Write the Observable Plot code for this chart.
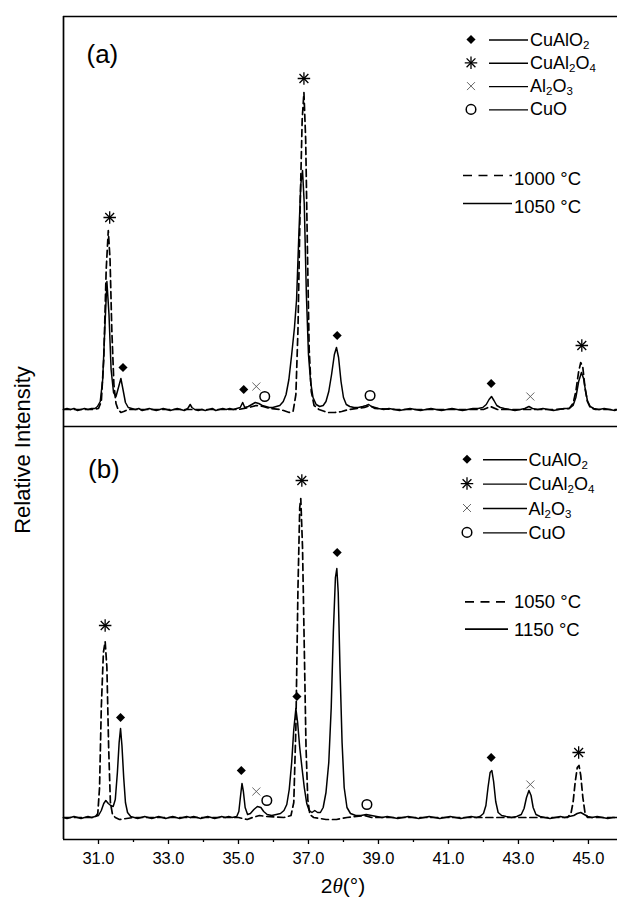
<!DOCTYPE html>
<html><head><meta charset="utf-8">
<script src="https://cdn.jsdelivr.net/npm/d3@7"></script>
<script src="https://cdn.jsdelivr.net/npm/@observablehq/plot@0.6"></script>
<style>
html,body{margin:0;padding:0;background:#fff;overflow:hidden}
#wrap{position:relative;width:617px;height:901px;font-family:"Liberation Sans",Arial,sans-serif}
#wrap svg{position:absolute;left:0;top:0}
</style></head><body><div id="wrap"></div>
<script>
// ---------- data ----------
const xTicks = [31, 33, 35, 37, 39, 41, 43, 45];
const xMinor = [30, 32, 34, 36, 38, 40, 42, 44];
const phases = ["CuAlO2", "CuAl2O4", "Al2O3", "CuO"];
const tempsA = ["1000 °C", "1050 °C"];
const tempsB = ["1050 °C", "1150 °C"];

// panel (a) 1000 °C (dashed): [2theta, intensity]
const a1000 = [[30.00,0],[30.40,0],[30.80,0],[31.00,1],[31.08,8],[31.15,50],[31.22,140],[31.28,179],[31.33,150],[31.38,80],[31.44,25],[31.50,6],[31.56,0],[31.64,-3],[31.72,-2],[31.85,0],[32.20,0],[33.00,0],[34.00,0],[35.00,0],[35.30,2],[35.50,4],[35.70,3],[35.90,1],[36.20,0],[36.45,-3],[36.56,-2],[36.64,15],[36.70,80],[36.76,200],[36.82,290],[36.87,317],[36.92,270],[36.97,160],[37.02,60],[37.08,18],[37.16,4],[37.30,0],[37.55,-3],[37.75,-3],[37.95,-2],[38.15,0],[38.60,2],[38.75,4],[38.90,1],[39.50,0],[41.00,0],[42.00,0],[42.20,3],[42.40,0],[44.00,0],[44.45,1],[44.56,6],[44.64,18],[44.72,38],[44.78,47],[44.84,42],[44.90,22],[44.97,8],[45.05,2],[45.20,0],[45.83,0]];

// panel (a) 1050 °C (solid)
const a1050 = [[30.00,0],[30.10,1],[30.20,0],[30.30,1],[30.40,-1],[30.50,0],[30.60,1],[30.70,0],[30.80,1],[30.90,1],[30.97,3],[31.05,8],[31.12,30],[31.18,80],[31.24,128],[31.30,95],[31.36,40],[31.43,17],[31.50,13],[31.57,22],[31.64,31],[31.70,20],[31.77,7],[31.85,2],[31.95,1],[32.05,0],[32.15,1],[32.25,-1],[32.35,0],[32.45,1],[32.55,0],[32.65,-1],[32.75,0],[32.85,1],[32.95,0],[33.05,-1],[33.15,0],[33.25,1],[33.35,0],[33.45,-1],[33.55,1],[33.62,5],[33.67,2],[33.75,0],[33.85,-1],[33.95,0],[34.05,-1],[34.15,0],[34.25,1],[34.35,-1],[34.45,0],[34.55,1],[34.65,0],[34.75,1],[34.85,0],[34.95,1],[35.05,2],[35.12,7],[35.18,2],[35.28,3],[35.38,5],[35.48,7],[35.58,6],[35.68,4],[35.78,3],[35.88,2],[35.98,2],[36.08,3],[36.18,4],[36.28,8],[36.36,15],[36.44,30],[36.52,55],[36.60,82],[36.66,110],[36.72,170],[36.78,225],[36.83,239],[36.88,205],[36.94,115],[37.00,55],[37.06,28],[37.13,12],[37.22,5],[37.32,3],[37.42,4],[37.50,8],[37.58,18],[37.66,35],[37.74,55],[37.80,62],[37.86,52],[37.93,28],[38.00,12],[38.08,5],[38.18,3],[38.30,2],[38.42,2],[38.55,3],[38.65,4],[38.72,5],[38.80,3],[38.90,2],[39.00,1],[39.15,0],[39.30,1],[39.45,0],[39.60,-1],[39.75,0],[39.90,1],[40.05,0],[40.20,-1],[40.35,0],[40.50,1],[40.65,0],[40.80,-1],[40.95,0],[41.10,1],[41.25,0],[41.40,-1],[41.55,0],[41.70,1],[41.85,1],[41.98,2],[42.08,5],[42.16,10],[42.23,13],[42.30,9],[42.38,4],[42.48,2],[42.60,1],[42.75,0],[42.90,-1],[43.05,0],[43.18,1],[43.30,3],[43.40,1],[43.55,0],[43.70,1],[43.85,0],[44.00,-1],[44.15,0],[44.30,1],[44.45,1],[44.56,4],[44.64,12],[44.72,28],[44.80,37],[44.86,31],[44.91,20],[44.97,9],[45.05,3],[45.15,1],[45.30,0],[45.45,1],[45.60,0],[45.75,-1],[45.83,0]];

// panel (b) 1050 °C (dashed)
const b1050 = [[30.00,0],[30.50,0],[30.90,0],[30.98,4],[31.03,30],[31.08,110],[31.14,165],[31.19,176],[31.24,150],[31.29,70],[31.34,15],[31.40,3],[31.48,0],[31.60,-2],[31.80,-1],[32.00,0],[35.00,0],[35.25,-2],[35.40,0],[35.60,2],[35.80,1],[36.30,0],[36.50,2],[36.58,15],[36.64,90],[36.70,230],[36.75,310],[36.78,319],[36.83,270],[36.88,170],[36.93,70],[36.98,18],[37.04,3],[37.15,0],[37.50,-2],[37.80,-2],[38.10,0],[38.60,2],[38.80,0],[44.40,0],[44.50,4],[44.56,15],[44.62,35],[44.68,50],[44.73,52],[44.78,42],[44.84,20],[44.90,5],[44.97,0],[45.83,0]];

// panel (b) 1150 °C (solid)
const b1150 = [[30.00,0],[30.10,-1],[30.20,0],[30.30,1],[30.40,0],[30.50,-1],[30.60,0],[30.70,1],[30.80,0],[30.90,1],[31.00,2],[31.08,7],[31.15,14],[31.21,17],[31.28,14],[31.35,12],[31.42,11],[31.48,18],[31.54,45],[31.59,75],[31.63,89],[31.67,72],[31.72,40],[31.77,15],[31.83,5],[31.92,1],[32.02,0],[32.12,-1],[32.22,0],[32.32,1],[32.42,0],[32.52,-1],[32.62,0],[32.72,1],[32.82,0],[32.92,-1],[33.02,0],[33.12,1],[33.22,0],[33.32,-1],[33.42,0],[33.52,1],[33.62,0],[33.72,1],[33.82,0],[33.92,-1],[34.02,0],[34.12,1],[34.22,0],[34.32,-1],[34.42,0],[34.52,1],[34.62,0],[34.72,1],[34.82,0],[34.95,1],[35.01,6],[35.06,22],[35.10,34],[35.14,26],[35.19,10],[35.26,3],[35.34,4],[35.44,8],[35.54,11],[35.64,10],[35.72,6],[35.82,3],[35.95,2],[36.08,3],[36.20,4],[36.30,7],[36.38,13],[36.45,28],[36.52,55],[36.58,88],[36.64,109],[36.69,95],[36.75,70],[36.82,48],[36.88,30],[36.95,14],[37.02,7],[37.10,5],[37.18,7],[37.26,5],[37.34,5],[37.42,10],[37.50,25],[37.58,55],[37.65,110],[37.71,185],[37.77,240],[37.81,249],[37.85,225],[37.90,150],[37.96,75],[38.02,30],[38.10,10],[38.20,4],[38.35,2],[38.50,2],[38.65,3],[38.80,2],[38.95,1],[39.10,0],[39.25,1],[39.40,0],[39.55,-1],[39.70,0],[39.85,1],[40.00,0],[40.15,-1],[40.30,0],[40.45,1],[40.60,0],[40.75,-1],[40.90,0],[41.05,1],[41.20,0],[41.35,-1],[41.50,0],[41.65,1],[41.80,0],[41.90,1],[42.00,4],[42.07,12],[42.13,30],[42.19,45],[42.24,47],[42.29,36],[42.35,16],[42.42,5],[42.52,2],[42.65,1],[42.80,0],[42.95,1],[43.08,3],[43.16,9],[43.23,20],[43.30,27],[43.36,22],[43.42,10],[43.50,3],[43.62,1],[43.75,0],[43.90,-1],[44.05,0],[44.20,1],[44.32,0],[44.45,1],[44.58,2],[44.68,4],[44.78,5],[44.88,3],[44.98,1],[45.10,0],[45.25,1],[45.40,0],[45.55,-1],[45.70,0],[45.83,0]];

// phase markers: [phase, 2theta, height]
const markersA = [["CuAl2O4",31.32,192],["CuAlO2",31.70,42],["CuAlO2",35.15,20],["Al2O3",35.51,23],["CuO",35.75,13],["CuAl2O4",36.87,331],["CuAlO2",37.82,74],["CuO",38.76,14],["CuAlO2",42.22,26],["Al2O3",43.34,13],["CuAl2O4",44.81,64]];
const markersB = [["CuAl2O4",31.19,192],["CuAlO2",31.63,100],["CuAlO2",35.08,47],["Al2O3",35.51,26],["CuO",35.81,17],["CuAlO2",36.67,121],["CuAl2O4",36.81,337],["CuAlO2",37.82,265],["CuO",38.67,13],["CuAlO2",42.22,60],["Al2O3",43.34,33],["CuAl2O4",44.72,65]];

// ---------- layout ----------
const offA = 408, offB = 0;         // vertical offset of each panel's baseline
const yTop = 801, yDiv = 391, yBot = -22;
const dash = "7,4";
const R = {dia: 4.1, ast: 4.1, x: 3.7, o: 4.8};

function markerMarks(list, off) {
  const get = p => list.filter(d => d[0] === p);
  const X = d => d[1], Y = d => d[2] + off;
  return [
    Plot.dot(get("CuAlO2"), {x: X, y: Y, symbol: "diamond2", r: R.dia, fill: "black", stroke: "none"}),
    Plot.dot(get("CuAl2O4"), {x: X, y: Y, symbol: "plus", r: R.ast, stroke: "black", strokeWidth: 1.3}),
    Plot.dot(get("CuAl2O4"), {x: X, y: Y, symbol: "times", r: R.ast, stroke: "black", strokeWidth: 1.3}),
    Plot.dot(get("Al2O3"), {x: X, y: Y, symbol: "times", r: R.x, stroke: "#555", strokeWidth: 0.9}),
    Plot.dot(get("CuO"), {x: X, y: Y, symbol: "circle", r: R.o, stroke: "black", fill: "white", strokeWidth: 1.5})
  ];
}
function lineMark(data, off, dashed) {
  return Plot.line(data, {x: d => d[0], y: d => d[1] + off, stroke: "black", strokeWidth: dashed ? 1.7 : 1.5,
    strokeDasharray: dashed ? dash : null, curve: "linear"});
}

const chart = Plot.plot({
  width: 617, height: 901,
  marginLeft: 63, marginRight: 0, marginTop: 16, marginBottom: 62,
  style: {fontFamily: '"Liberation Sans", Arial, sans-serif', fontSize: "16.5px", color: "black", background: "white"},
  x: {domain: [30, 45.83], axis: null},
  y: {domain: [yBot, yTop], axis: null},
  marks: [
    lineMark(a1000, offA, true),
    lineMark(a1050, offA, false),
    lineMark(b1050, offB, true),
    lineMark(b1150, offB, false),
    ...markerMarks(markersA, offA),
    ...markerMarks(markersB, offB),
    Plot.ruleY([yTop, yDiv, yBot], {stroke: "black", strokeWidth: 1.7}),
    Plot.ruleX([30], {y1: yBot, y2: yTop, stroke: "black", strokeWidth: 1.7}),
    Plot.axisX({ticks: xTicks, tickSize: 5, tickPadding: 8, tickFormat: d => d.toFixed(1), label: null, strokeWidth: 1.3}),
    Plot.axisX({ticks: xMinor.slice(1), tickSize: 3, tickFormat: () => "", label: null, strokeWidth: 1.3})
  ]
});
document.getElementById("wrap").appendChild(chart);

// ---------- overlay: legends and labels ----------
const ov = d3.select("#wrap").append("svg").attr("width", 617).attr("height", 901)
  .style("font-family", '"Liberation Sans", Arial, sans-serif').style("pointer-events", "none");

function chemText(g, label, x, y, size) {
  const t = g.append("text").attr("x", x).attr("y", y).attr("font-size", size).attr("fill", "black");
  const parts = label.match(/\d+|\D+/g);
  let sub = false;
  parts.forEach(p => {
    const isNum = /\d/.test(p);
    const ts = t.append("tspan").text(p);
    if (isNum && !sub) { ts.attr("dy", 3).attr("font-size", size * 0.64); sub = true; }
    else if (isNum) { ts.attr("font-size", size * 0.64); }
    else if (sub) { ts.attr("dy", -3); sub = false; }
  });
}
function legendSymbol(g, p, cx, cy) {
  const area = r => Math.PI * r * r;
  const tr = `translate(${cx},${cy})`;
  if (p === "CuAlO2") g.append("path").attr("d", d3.symbol(d3.symbolDiamond2, area(R.dia))()).attr("transform", tr).attr("fill", "black");
  if (p === "CuAl2O4") {
    g.append("path").attr("d", d3.symbol(d3.symbolPlus, area(R.ast))()).attr("transform", tr).attr("fill", "none").attr("stroke", "black").attr("stroke-width", 1.3);
    g.append("path").attr("d", d3.symbol(d3.symbolTimes, area(R.ast))()).attr("transform", tr).attr("fill", "none").attr("stroke", "black").attr("stroke-width", 1.3);
  }
  if (p === "Al2O3") g.append("path").attr("d", d3.symbol(d3.symbolTimes, area(R.x))()).attr("transform", tr).attr("fill", "none").attr("stroke", "#555").attr("stroke-width", 0.9);
  if (p === "CuO") g.append("circle").attr("cx", cx).attr("cy", cy).attr("r", R.o).attr("fill", "none").attr("stroke", "black").attr("stroke-width", 1.5);
}
function legend(L, temps) {
  const g = ov.append("g");
  phases.forEach((p, i) => {
    const base = L.rowBase + i * L.rowStep;
    legendSymbol(g, p, L.symX, base - L.symUp);
    g.append("line").attr("x1", L.lx1).attr("x2", L.lx2).attr("y1", base - L.lineUp).attr("y2", base - L.lineUp).attr("stroke", "black").attr("stroke-width", 1.4);
    chemText(g, p, L.textX, base, 18);
  });
  temps.forEach((t, i) => {
    const base = L.tBase[i];
    g.append("line").attr("x1", L.tx1).attr("x2", L.tx2).attr("y1", base - L.tUp).attr("y2", base - L.tUp)
      .attr("stroke", "black").attr("stroke-width", 1.7).attr("stroke-dasharray", i === 0 ? "9,6.5" : null);
    g.append("text").attr("x", L.tTextX).attr("y", base).attr("font-size", 18.5).text(t);
  });
}
legend({symX: 471, lx1: 489, lx2: 528, textX: 530, rowBase: 45.5, rowStep: 23.3, symUp: 6, lineUp: 5.5,
        tx1: 463, tx2: 512, tTextX: 514, tBase: [184.5, 212.5], tUp: 9}, tempsA);
legend({symX: 467, lx1: 483, lx2: 527, textX: 528.5, rowBase: 465.7, rowStep: 24.4, symUp: 6.5, lineUp: 6,
        tx1: 465, tx2: 508, tTextX: 514, tBase: [608.3, 635.7], tUp: 6.5}, tempsB);

ov.append("text").attr("x", 86.5).attr("y", 63).attr("font-size", 26).text("(a)");
ov.append("text").attr("x", 88).attr("y", 478).attr("font-size", 26).text("(b)");
ov.append("text").attr("transform", "translate(30,450) rotate(-90)").attr("text-anchor", "middle").attr("font-size", 22).text("Relative Intensity");
const xl = ov.append("text").attr("x", 343).attr("y", 893).attr("text-anchor", "middle").attr("font-size", 21);
xl.append("tspan").text("2");
xl.append("tspan").attr("font-family", '"Liberation Serif", "DejaVu Serif", serif').attr("font-style", "italic").text("θ");
xl.append("tspan").text("(°)");
</script>
</body></html>
